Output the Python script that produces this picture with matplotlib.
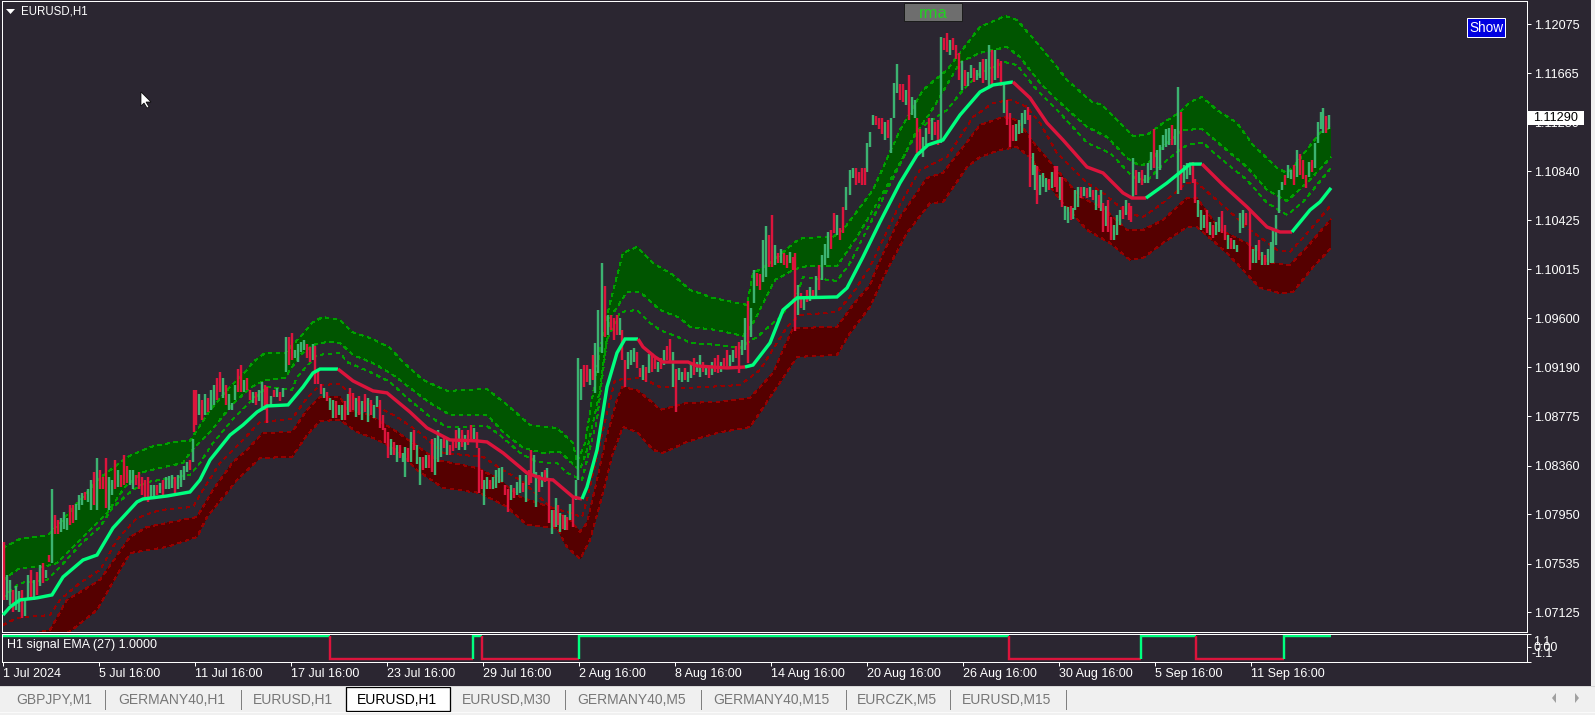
import numpy as np
import matplotlib
matplotlib.use("Agg")
import matplotlib.pyplot as plt
from matplotlib.patches import Rectangle, Polygon

plt.rcParams['font.family'] = ['Liberation Sans', 'DejaVu Sans']

# bands, as (hour bar, price) pairs
green_top = [(0,1.07667),(17,1.07742),(45,1.07776),(57,1.07877),(77,1.08071),(97,1.08256),(124,1.08432),(147,1.08517),
    (172,1.08559),(187,1.08568),(207,1.08828),(227,1.09022),(244,1.09165),(250,1.09232),(262,1.09309),(282,1.09309),
    (299,1.09460),(310,1.09569),(320,1.09611),(337,1.09586),(349,1.09485),(367,1.09435),(387,1.09351),(400,1.09232),
    (420,1.09081),(444,1.08989),(484,1.09005),(504,1.08871),(527,1.08702),(554,1.08677),(570,1.08551),(574,1.08390),
    (582,1.08551),(589,1.08913),(597,1.09334),(607,1.09730),(620,1.10151),(634,1.10201),(650,1.10066),(670,1.09965),
    (687,1.09839),(710,1.09772),(744,1.09713),(750,1.09982),(760,1.10024),(777,1.10134),(792,1.10243),(800,1.10277),
    (830,1.10285),(840,1.10344),(870,1.10681),(897,1.11186),(920,1.11523),(944,1.11691),(957,1.11835),(977,1.12053),
    (1002,1.12146),(1014,1.12112),(1034,1.11919),(1054,1.11716),(1064,1.11607),(1089,1.11422),(1099,1.11397),
    (1117,1.11245),(1130,1.11135),(1144,1.11144),(1160,1.11245),(1177,1.11337),(1187,1.11422),(1199,1.11464),
    (1214,1.11354),(1234,1.11245),(1250,1.11060),(1274,1.10866),(1284,1.10824),(1292,1.10891),(1317,1.11161),(1328,1.11211)]
green_bottom = [(0,1.07397),(17,1.07498),(40,1.07506),(54,1.07540),(69,1.07667),(87,1.07818),(104,1.07961),(122,1.08180),
    (140,1.08306),(157,1.08340),(180,1.08382),(189,1.08492),(207,1.08643),(229,1.08871),(247,1.09014),(262,1.09081),
    (282,1.09098),(297,1.09291),(310,1.09376),(324,1.09401),(337,1.09393),(350,1.09291),(370,1.09224),(390,1.09123),
    (407,1.09014),(427,1.08888),(447,1.08786),(484,1.08786),(500,1.08643),(520,1.08509),(540,1.08467),(557,1.08475),
    (574,1.08340),(577,1.08323),(584,1.08492),(595,1.08913),(607,1.09603),(624,1.09822),(637,1.09822),(657,1.09670),
    (677,1.09603),(687,1.09527),(714,1.09502),(740,1.09451),(750,1.09561),(772,1.09923),(792,1.10015),(804,1.10040),
    (834,1.10040),(854,1.10285),(870,1.10512),(897,1.10908),(914,1.11169),(927,1.11329),(937,1.11464),(957,1.11758),
    (977,1.11835),(1004,1.11885),(1017,1.11800),(1037,1.11582),(1054,1.11439),(1084,1.11211),(1104,1.11127),
    (1124,1.10950),(1137,1.10883),(1145,1.10908),(1164,1.11077),(1180,1.11186),(1199,1.11194),(1220,1.11043),
    (1244,1.10874),(1264,1.10681),(1284,1.10588),(1304,1.10740),(1328,1.10958)]
green_inner = [(0,1.07246),(17,1.07372),(44,1.07397),(57,1.07506),(79,1.07709),(97,1.07843),(110,1.08012),(130,1.08155),
    (144,1.08222),(170,1.08256),(187,1.08281),(197,1.08382),(210,1.08551),(229,1.08744),(247,1.08896),(264,1.09022),
    (289,1.08997),(294,1.09106),(314,1.09291),(337,1.09309),(344,1.09232),(367,1.09148),(387,1.09064),(404,1.08930),
    (427,1.08770),(444,1.08685),(484,1.08693),(497,1.08617),(517,1.08467),(534,1.08390),(554,1.08382),(564,1.08298),
    (579,1.08239),(584,1.08407),(594,1.08744),(604,1.09418),(617,1.09653),(634,1.09670),(647,1.09561),(657,1.09502),
    (677,1.09435),(687,1.09393),(714,1.09376),(737,1.09351),(754,1.09443),(777,1.09611),(794,1.09797),(800,1.09949),
    (834,1.09915),(847,1.10066),(869,1.10428),(894,1.10849),(914,1.11186),(944,1.11354),(960,1.11523),(977,1.11666),
    (1002,1.11758),(1014,1.11733),(1034,1.11523),(1057,1.11329),(1084,1.11077),(1107,1.10993),(1130,1.10790),
    (1144,1.10757),(1164,1.10933),(1184,1.11060),(1200,1.11077),(1217,1.10950),(1244,1.10765),(1264,1.10572),
    (1284,1.10471),(1300,1.10580),(1328,1.10866)]
center_line = [(0,1.07102),(7,1.07169),(17,1.07229),(34,1.07246),(49,1.07271),(60,1.07422),(80,1.07565),(94,1.07607),
    (110,1.07835),(134,1.08054),(140,1.08079),(164,1.08104),(187,1.08138),(197,1.08239),(207,1.08407),(227,1.08617),
    (240,1.08702),(254,1.08811),(264,1.08862),(285,1.08871),(300,1.09022),(310,1.09140),(317,1.09173),(335,1.09173),
    (350,1.09073),(370,1.08989),(384,1.08972),(407,1.08811),(424,1.08677),(447,1.08576),(474,1.08568),(484,1.08559),
    (500,1.08467),(524,1.08298),(540,1.08247),(550,1.08239),(570,1.08096),(579,1.08079),(584,1.08180),(594,1.08492),
    (604,1.09022),(614,1.09309),(622,1.09426),(635,1.09426),(640,1.09359),(652,1.09275),(660,1.09232),(685,1.09232),
    (694,1.09199),(724,1.09182),(742,1.09190),(750,1.09207),(767,1.09393),(780,1.09670),(794,1.09772),(834,1.09780),
    (844,1.09856),(860,1.10117),(877,1.10411),(897,1.10740),(914,1.10975),(925,1.11060),(940,1.11102),(957,1.11312),
    (977,1.11506),(990,1.11565),(1010,1.11590),(1027,1.11456),(1044,1.11245),(1060,1.11102),(1084,1.10874),(1100,1.10824),
    (1120,1.10656),(1129,1.10613),(1143,1.10613),(1164,1.10740),(1180,1.10849),(1187,1.10899),(1199,1.10899),(1220,1.10723),
    (1244,1.10538),(1264,1.10369),(1277,1.10327),(1289,1.10327),(1307,1.10512),(1317,1.10580),(1328,1.10698)]
red_inner = [(0,1.07018),(14,1.07077),(47,1.07102),(57,1.07229),(77,1.07372),(97,1.07481),(114,1.07734),(134,1.07919),
    (157,1.07986),(190,1.08012),(200,1.08155),(217,1.08382),(237,1.08551),(257,1.08727),(289,1.08753),(304,1.08930),
    (317,1.09039),(337,1.09047),(354,1.08913),(374,1.08854),(394,1.08770),(417,1.08635),(440,1.08467),(480,1.08433),
    (500,1.08323),(520,1.08222),(547,1.08012),(564,1.07969),(579,1.07927),(584,1.08071),(597,1.08551),(612,1.09081),
    (637,1.09098),(647,1.09064),(657,1.09022),(684,1.09014),(704,1.09022),(737,1.09039),(757,1.09165),(784,1.09527),
    (797,1.09628),(834,1.09653),(850,1.09813),(867,1.10032),(894,1.10512),(917,1.10849),(944,1.10958),(970,1.11295),
    (990,1.11413),(1007,1.11439),(1024,1.11380),(1037,1.11245),(1054,1.10992),(1084,1.10740),(1100,1.10656),(1124,1.10487),
    (1140,1.10453),(1160,1.10572),(1184,1.10740),(1194,1.10740),(1217,1.10572),(1247,1.10344),(1274,1.10176),(1287,1.10159),
    (1307,1.10344),(1328,1.10554)]
red_top = [(0,1.06892),(17,1.06926),(47,1.06976),(64,1.07229),(97,1.07397),(127,1.07759),(144,1.07843),(194,1.07927),
    (210,1.08155),(230,1.08390),(244,1.08492),(260,1.08635),(289,1.08643),(304,1.08828),(317,1.08938),(337,1.08938),
    (344,1.08828),(367,1.08786),(394,1.08643),(434,1.08407),(474,1.08340),(494,1.08256),(517,1.08096),(547,1.08012),
    (567,1.07902),(577,1.07801),(584,1.07877),(594,1.08239),(602,1.08551),(614,1.08913),(619,1.09022),(634,1.08997),
    (650,1.08888),(657,1.08828),(684,1.08888),(717,1.08896),(747,1.08930),(770,1.09140),(790,1.09519),(834,1.09527),
    (850,1.09713),(867,1.09881),(874,1.10032),(897,1.10453),(924,1.10782),(940,1.10824),(977,1.11228),(1000,1.11295),
    (1014,1.11270),(1034,1.11043),(1060,1.10790),(1077,1.10622),(1100,1.10529),(1124,1.10344),(1140,1.10344),(1160,1.10428),
    (1184,1.10613),(1194,1.10613),(1217,1.10344),(1244,1.10234),(1267,1.10066),(1287,1.10049),(1304,1.10201),(1328,1.10436)]
red_bottom = [(0,1.06681),(27,1.06808),(47,1.06876),(69,1.06976),(94,1.07144),(107,1.07338),(127,1.07624),(164,1.07675),
    (194,1.07759),(204,1.07927),(234,1.08239),(257,1.08424),(289,1.08433),(304,1.08617),(317,1.08736),(337,1.08744),
    (354,1.08643),(370,1.08593),(394,1.08492),(414,1.08323),(440,1.08172),(477,1.08129),(504,1.08012),(524,1.07860),
    (554,1.07835),(564,1.07675),(577,1.07574),(587,1.07734),(600,1.08129),(610,1.08467),(620,1.08685),(634,1.08643),
    (650,1.08492),(660,1.08467),(684,1.08559),(714,1.08635),(747,1.08685),(770,1.08972),(794,1.09275),(834,1.09292),
    (847,1.09477),(867,1.09696),(884,1.10007),(904,1.10319),(927,1.10570),(940,1.10579),(964,1.10874),(977,1.10958),
    (997,1.11018),(1014,1.11043),(1027,1.10958),(1057,1.10597),(1084,1.10344),(1107,1.10234),(1127,1.10091),(1140,1.10108),
    (1160,1.10234),(1184,1.10369),(1194,1.10369),(1224,1.10150),(1257,1.09856),(1277,1.09813),(1290,1.09822),(1310,1.10032),
    (1328,1.10192)]

# bars where the middle line changes colour, it starts green
center_flips = [335, 579, 635, 742, 1010, 1143, 1199, 1289]

# candles: (bar, high, low, g/r)
candles_jul_a = [(1,1.0772,1.0723,'r'),(4,1.0744,1.0723,'g'),(7,1.0740,1.0719,'g'),(10,1.0731,1.0713,'r'),(13,1.0735,1.0714,'g'),
    (16,1.0730,1.0713,'g'),(19,1.0731,1.0708,'r'),(22,1.0724,1.0709,'g'),(25,1.0744,1.0723,'g'),(28,1.0748,1.0723,'r'),
    (31,1.0740,1.0723,'g'),(34,1.0746,1.0727,'r'),(37,1.0752,1.0735,'g'),(40,1.0754,1.0737,'r'),(43,1.0748,1.0741,'g'),
    (46,1.0761,1.0755,'r'),(49,1.0816,1.0754,'g'),(52,1.0794,1.0778,'r'),(55,1.0790,1.0778,'r'),(58,1.0792,1.0780,'g'),
    (61,1.0797,1.0783,'g'),(64,1.0792,1.0782,'g'),(67,1.0803,1.0786,'r'),(70,1.0803,1.0788,'r'),(73,1.0804,1.0790,'g'),
    (76,1.0811,1.0799,'g'),(79,1.0813,1.0803,'g'),(82,1.0814,1.0807,'r'),(85,1.0816,1.0805,'g'),(88,1.0824,1.0799,'g'),
    (91,1.0831,1.0803,'r'),(94,1.0842,1.0799,'g'),(97,1.0832,1.0816,'r'),(100,1.0826,1.0816,'r'),(103,1.0842,1.0800,'r'),
    (106,1.0826,1.0799,'g'),(109,1.0824,1.0811,'g'),(112,1.0841,1.0816,'r'),(115,1.0832,1.0818,'g'),(118,1.0828,1.0818,'r'),
    (121,1.0845,1.0820,'r'),(124,1.0836,1.0821,'r'),(127,1.0832,1.0820,'g'),(130,1.0832,1.0816,'g'),(133,1.0828,1.0820,'r'),
    (136,1.0831,1.0816,'r'),(139,1.0826,1.0811,'r'),(142,1.0824,1.0809,'r'),(145,1.0826,1.0805,'r'),(148,1.0820,1.0809,'g'),
    (151,1.0820,1.0810,'g'),(154,1.0820,1.0811,'r'),(157,1.0821,1.0813,'g'),(160,1.0824,1.0811,'r'),(163,1.0826,1.0816,'g'),
    (166,1.0827,1.0816,'g'),(169,1.0828,1.0817,'g'),(172,1.0826,1.0813,'r'),(175,1.0828,1.0816,'g'),(178,1.0832,1.0818,'g'),
    (181,1.0836,1.0824,'g'),(184,1.0839,1.0831,'g'),(187,1.0841,1.0832,'r'),(190,1.0858,1.0839,'g'),(191,1.0900,1.0864,'r')]
candles_jul_b = [(193,1.0900,1.0870,'r'),(196,1.0896,1.0879,'g'),(199,1.0891,1.0874,'r'),(202,1.0896,1.0879,'g'),(205,1.0893,1.0881,'r'),
    (208,1.0900,1.0883,'g'),(211,1.0904,1.0887,'g'),(214,1.0910,1.0891,'r'),(217,1.0915,1.0898,'r'),(220,1.0910,1.0893,'g'),
    (223,1.0904,1.0887,'r'),(226,1.0896,1.0883,'g'),(229,1.0889,1.0883,'g'),(232,1.0904,1.0891,'g'),(235,1.0917,1.0898,'r'),
    (238,1.0921,1.0898,'r'),(241,1.0908,1.0898,'g'),(244,1.0910,1.0900,'r'),(247,1.0900,1.0891,'r'),(250,1.0898,1.0889,'g'),
    (253,1.0898,1.0887,'r'),(256,1.0900,1.0890,'g'),(259,1.0906,1.0883,'g'),(262,1.0904,1.0883,'r'),(264,1.0902,1.0872,'r'),
    (268,1.0895,1.0887,'g'),(271,1.0900,1.0894,'r'),(274,1.0901,1.0894,'g'),(277,1.0898,1.0890,'r'),(280,1.0901,1.0894,'g'),
    (283,1.0944,1.0915,'g'),(286,1.0944,1.0921,'r'),(289,1.0948,1.0925,'r'),(292,1.0933,1.0927,'g'),(295,1.0938,1.0923,'g'),
    (298,1.0940,1.0932,'g'),(301,1.0942,1.0933,'g'),(304,1.0938,1.0927,'r'),(307,1.0936,1.0923,'r'),(310,1.0938,1.0925,'g'),
    (312,1.0937,1.0905,'r'),(315,1.0917,1.0905,'r'),(318,1.0905,1.0896,'r'),(321,1.0901,1.0893,'g'),(324,1.0898,1.0890,'r'),
    (327,1.0893,1.0883,'g'),(330,1.0891,1.0876,'g'),(333,1.0890,1.0876,'r'),(336,1.0887,1.0879,'g'),(339,1.0887,1.0874,'g'),
    (342,1.0890,1.0874,'r'),(345,1.0896,1.0879,'g'),(347,1.0901,1.0881,'r'),(350,1.0897,1.0883,'r'),(353,1.0893,1.0877,'g'),
    (356,1.0895,1.0879,'r'),(359,1.0890,1.0874,'g'),(362,1.0896,1.0881,'r'),(365,1.0893,1.0873,'g'),(368,1.0891,1.0879,'r'),
    (371,1.0887,1.0876,'g'),(374,1.0895,1.0885,'g'),(377,1.0891,1.0868,'r'),(380,1.0879,1.0866,'r'),(382,1.0868,1.0855,'r'),
    (385,1.0864,1.0842,'r'),(388,1.0858,1.0845,'g'),(391,1.0856,1.0845,'r'),(394,1.0853,1.0839,'g'),(397,1.0853,1.0842,'r'),
    (400,1.0847,1.0839,'g'),(402,1.0852,1.0826,'g'),(405,1.0851,1.0839,'r'),(408,1.0864,1.0839,'g'),(411,1.0866,1.0849,'r'),
    (414,1.0853,1.0837,'g'),(417,1.0843,1.0820,'g'),(420,1.0843,1.0832,'r'),(423,1.0845,1.0834,'g'),(426,1.0845,1.0834,'r'),
    (429,1.0858,1.0831,'r'),(432,1.0859,1.0828,'g'),(435,1.0866,1.0839,'g'),(438,1.0858,1.0843,'g'),(441,1.0860,1.0851,'r')]
candles_jul_c = [(444,1.0859,1.0845,'g'),(447,1.0853,1.0845,'r'),(450,1.0858,1.0848,'r'),(453,1.0866,1.0851,'r'),(456,1.0868,1.0849,'g'),
    (459,1.0866,1.0852,'r'),(462,1.0862,1.0849,'g'),(465,1.0866,1.0853,'r'),(468,1.0870,1.0858,'r'),(471,1.0868,1.0858,'g'),
    (474,1.0864,1.0851,'r'),(476,1.0851,1.0813,'r'),(479,1.0832,1.0816,'r'),(481,1.0824,1.0803,'g'),(484,1.0826,1.0816,'g'),
    (487,1.0824,1.0816,'r'),(490,1.0826,1.0816,'g'),(493,1.0832,1.0817,'g'),(496,1.0834,1.0821,'g'),(499,1.0835,1.0822,'g'),
    (502,1.0820,1.0811,'r'),(505,1.0816,1.0797,'r'),(508,1.0820,1.0807,'g'),(511,1.0817,1.0809,'r'),(514,1.0822,1.0811,'g'),
    (517,1.0828,1.0813,'g'),(520,1.0821,1.0814,'r'),(523,1.0828,1.0805,'g'),(526,1.0832,1.0820,'r'),(528,1.0849,1.0821,'r'),
    (531,1.0845,1.0828,'g'),(533,1.0831,1.0801,'g'),(536,1.0828,1.0814,'r'),(539,1.0831,1.0818,'g'),(542,1.0832,1.0822,'r'),
    (544,1.0834,1.0824,'g'),(546,1.0824,1.0788,'r'),(549,1.0799,1.0778,'g'),(551,1.0799,1.0784,'r'),(553,1.0809,1.0784,'g'),
    (555,1.0803,1.0786,'r'),(557,1.0796,1.0780,'g'),(560,1.0794,1.0783,'r'),(562,1.0794,1.0782,'g'),(564,1.0793,1.0782,'r'),
    (567,1.0804,1.0790,'g'),(570,1.0809,1.0784,'r'),(573,1.0824,1.0807,'g')]
candles_aug_a = [(575,1.0927,1.0824,'g'),(578,1.0917,1.0891,'g'),(581,1.0921,1.0902,'r'),(584,1.0921,1.0906,'r'),(587,1.0917,1.0904,'g'),
    (590,1.0929,1.0908,'r'),(592,1.0939,1.0897,'g'),(595,1.0967,1.0914,'g'),(599,1.1007,1.0931,'g'),(602,1.0987,1.0944,'r'),
    (605,1.0963,1.0946,'g'),(608,1.0963,1.0950,'r'),(611,1.0960,1.0942,'r'),(614,1.0963,1.0946,'r'),(617,1.0960,1.0946,'g'),
    (619,1.0950,1.0925,'r'),(622,1.0925,1.0902,'r'),(625,1.0932,1.0917,'g'),(628,1.0933,1.0921,'g'),(631,1.0935,1.0923,'g'),
    (634,1.0932,1.0918,'r'),(637,1.0918,1.0911,'r'),(640,1.0921,1.0908,'g'),(643,1.0919,1.0906,'r'),(646,1.0930,1.0914,'g'),
    (649,1.0931,1.0915,'r'),(652,1.0928,1.0917,'r'),(655,1.0923,1.0915,'g'),(658,1.0927,1.0917,'r'),(661,1.0933,1.0921,'g'),
    (664,1.0937,1.0925,'r'),(667,1.0943,1.0923,'r'),(670,1.0932,1.0902,'g'),(673,1.0917,1.0881,'r'),(676,1.0918,1.0908,'g'),
    (679,1.0915,1.0906,'g'),(682,1.0918,1.0908,'r'),(685,1.0915,1.0906,'g'),(688,1.0923,1.0910,'g'),(691,1.0927,1.0912,'r'),
    (694,1.0923,1.0915,'g'),(697,1.0929,1.0911,'g'),(700,1.0923,1.0915,'r'),(703,1.0921,1.0912,'g'),(706,1.0918,1.0910,'r'),
    (709,1.0923,1.0912,'g'),(712,1.0927,1.0915,'r'),(715,1.0929,1.0914,'r'),(718,1.0923,1.0915,'g'),(721,1.0927,1.0917,'r'),
    (724,1.0933,1.0917,'r'),(727,1.0929,1.0918,'g'),(730,1.0933,1.0923,'g'),(733,1.0937,1.0927,'r'),(736,1.0940,1.0914,'r'),
    (739,1.0942,1.0929,'g'),(742,1.0960,1.0933,'g'),(745,1.0975,1.0922,'r'),(748,1.0969,1.0944,'g'),(751,1.1001,1.0973,'g'),
    (754,1.0998,1.0987,'r'),(757,1.0997,1.0984,'r'),(760,1.1026,1.0991,'g'),(763,1.1038,1.0995,'g'),(766,1.1030,1.1003,'r'),
    (769,1.1047,1.1003,'r'),(772,1.1022,1.1005,'g'),(775,1.1015,1.1007,'r'),(778,1.1018,1.1007,'g'),(781,1.1015,1.1005,'r'),
    (784,1.1013,1.1002,'r'),(787,1.1016,1.1007,'g'),(790,1.1012,1.1001,'r'),(792,1.1015,1.0949,'r'),(795,1.0988,1.0963,'g'),
    (798,1.0981,1.0969,'r'),(801,1.0979,1.0967,'g'),(804,1.0984,1.0974,'r'),(807,1.0986,1.0975,'g'),(810,1.0984,1.0977,'r'),
    (813,1.0996,1.0979,'g'),(816,1.1005,1.0984,'r'),(819,1.1013,1.0992,'g'),(822,1.1023,1.1005,'g'),(825,1.1033,1.1011,'g'),
    (828,1.1034,1.1018,'r')]
candles_aug_b = [(831,1.1049,1.1032,'r'),(834,1.1047,1.1030,'g'),(837,1.1036,1.1026,'r'),(840,1.1054,1.1032,'r'),(843,1.1071,1.1051,'g'),
    (847,1.1085,1.1064,'g'),(850,1.1087,1.1078,'g'),(853,1.1087,1.1072,'r'),(856,1.1083,1.1074,'r'),(859,1.1087,1.1072,'r'),
    (862,1.1087,1.1072,'r'),(864,1.1108,1.1083,'g'),(867,1.1117,1.1104,'g'),(870,1.1131,1.1123,'g'),(873,1.1130,1.1123,'r'),
    (876,1.1129,1.1119,'r'),(879,1.1129,1.1115,'r'),(882,1.1125,1.1110,'g'),(885,1.1127,1.1112,'r'),(888,1.1129,1.1099,'g'),
    (891,1.1158,1.1129,'g'),(894,1.1174,1.1150,'g'),(897,1.1157,1.1144,'r'),(900,1.1157,1.1142,'r'),(903,1.1152,1.1140,'g'),
    (906,1.1165,1.1127,'r'),(909,1.1146,1.1131,'g'),(912,1.1144,1.1129,'g'),(914,1.1129,1.1099,'r'),(917,1.1119,1.1102,'r'),
    (920,1.1113,1.1096,'g'),(923,1.1120,1.1106,'g'),(926,1.1129,1.1115,'r'),(929,1.1129,1.1110,'g'),(932,1.1125,1.1114,'r'),
    (935,1.1127,1.1106,'r'),(938,1.1197,1.1108,'g'),(941,1.1196,1.1186,'r'),(944,1.1200,1.1184,'r'),(947,1.1194,1.1182,'g'),
    (950,1.1196,1.1186,'r'),(953,1.1190,1.1178,'r'),(956,1.1183,1.1161,'r'),(959,1.1177,1.1152,'g'),(962,1.1169,1.1156,'r'),
    (965,1.1167,1.1156,'g'),(968,1.1173,1.1162,'g'),(971,1.1171,1.1159,'r'),(974,1.1169,1.1161,'g'),(977,1.1176,1.1162,'g'),
    (980,1.1178,1.1158,'r'),(983,1.1178,1.1161,'g'),(986,1.1190,1.1155,'g'),(989,1.1186,1.1157,'r'),(992,1.1186,1.1161,'g'),
    (995,1.1178,1.1162,'r'),(998,1.1177,1.1156,'r'),(1001,1.1158,1.1133,'g'),(1004,1.1144,1.1123,'r'),(1007,1.1133,1.1104,'r'),
    (1010,1.1123,1.1109,'r'),(1013,1.1124,1.1109,'g'),(1016,1.1127,1.1115,'g'),(1019,1.1133,1.1116,'g'),(1022,1.1135,1.1124,'g'),
    (1025,1.1138,1.1127,'r'),(1027,1.1131,1.1071,'r')]
candles_sep = [(1030,1.1099,1.1081,'g'),(1032,1.1089,1.1068,'g'),(1034,1.1088,1.1056,'r'),(1037,1.1081,1.1064,'g'),(1040,1.1082,1.1071,'g'),
    (1043,1.1078,1.1066,'g'),(1046,1.1077,1.1068,'r'),(1049,1.1083,1.1070,'g'),(1052,1.1088,1.1071,'r'),(1054,1.1088,1.1066,'r'),
    (1057,1.1079,1.1060,'g'),(1059,1.1079,1.1054,'r'),(1062,1.1055,1.1043,'g'),(1065,1.1054,1.1040,'g'),(1068,1.1055,1.1043,'r'),
    (1070,1.1053,1.1044,'g'),(1072,1.1068,1.1051,'g'),(1075,1.1071,1.1054,'g'),(1078,1.1071,1.1061,'r'),(1081,1.1071,1.1063,'g'),
    (1084,1.1070,1.1061,'r'),(1087,1.1071,1.1062,'g'),(1090,1.1068,1.1060,'r'),(1093,1.1068,1.1051,'g'),(1096,1.1064,1.1053,'r'),
    (1098,1.1068,1.1050,'g'),(1100,1.1057,1.1033,'r'),(1103,1.1055,1.1038,'g'),(1105,1.1060,1.1033,'r'),(1108,1.1045,1.1026,'r'),
    (1111,1.1039,1.1026,'g'),(1114,1.1047,1.1030,'g'),(1117,1.1051,1.1039,'g'),(1120,1.1055,1.1044,'r'),(1123,1.1060,1.1047,'g'),
    (1126,1.1057,1.1043,'r'),(1128,1.1055,1.1041,'r'),(1130,1.1095,1.1062,'g'),(1133,1.1085,1.1064,'r'),(1136,1.1083,1.1074,'g'),
    (1139,1.1085,1.1072,'r'),(1142,1.1081,1.1074,'g'),(1145,1.1091,1.1074,'g'),(1148,1.1100,1.1085,'g'),(1151,1.1119,1.1087,'r'),
    (1154,1.1102,1.1077,'g'),(1157,1.1106,1.1085,'g'),(1160,1.1114,1.1102,'g'),(1163,1.1119,1.1104,'g'),(1166,1.1120,1.1106,'g'),
    (1169,1.1123,1.1106,'r'),(1172,1.1119,1.1106,'g'),(1175,1.1155,1.1065,'g'),(1178,1.1134,1.1068,'r'),(1181,1.1089,1.1074,'g'),
    (1184,1.1091,1.1077,'g'),(1187,1.1091,1.1081,'g'),(1190,1.1092,1.1074,'r'),(1192,1.1077,1.1057,'r'),(1195,1.1060,1.1045,'g'),
    (1198,1.1051,1.1034,'g'),(1201,1.1047,1.1036,'g'),(1204,1.1051,1.1032,'r'),(1207,1.1041,1.1030,'g'),(1210,1.1039,1.1028,'r'),
    (1213,1.1041,1.1030,'g'),(1216,1.1045,1.1033,'g'),(1219,1.1050,1.1032,'r'),(1222,1.1039,1.1026,'r'),(1225,1.1030,1.1018,'g'),
    (1228,1.1028,1.1018,'r'),(1231,1.1026,1.1018,'g'),(1234,1.1022,1.1016,'g'),(1237,1.1049,1.1032,'g'),(1240,1.1051,1.1036,'g'),
    (1243,1.1049,1.1039,'r'),(1247,1.1051,1.1001,'r'),(1250,1.1018,1.1007,'g'),(1253,1.1022,1.1007,'g'),(1256,1.1026,1.1009,'r'),
    (1259,1.1016,1.1005,'g'),(1262,1.1013,1.1005,'r'),(1265,1.1018,1.1005,'g'),(1268,1.1024,1.1007,'g'),(1270,1.1034,1.1007,'g'),
    (1273,1.1047,1.1022,'g'),(1276,1.1068,1.1049,'g'),(1279,1.1075,1.1068,'g'),(1282,1.1081,1.1072,'r'),(1285,1.1089,1.1078,'g'),
    (1288,1.1085,1.1077,'g'),(1291,1.1089,1.1072,'r'),(1294,1.1102,1.1079,'g'),(1297,1.1098,1.1081,'r'),(1300,1.1093,1.1077,'r'),
    (1303,1.1081,1.1070,'r'),(1306,1.1092,1.1079,'g'),(1309,1.1093,1.1083,'r'),(1312,1.1108,1.1087,'g'),(1315,1.1125,1.1108,'g'),
    (1318,1.1134,1.1119,'g'),(1320,1.1137,1.1116,'g'),(1323,1.1130,1.1116,'r'),(1326,1.1131,1.1119,'g')]

# signal sub window
signal_bars = [0, 327, 470, 479, 576, 1006, 1138, 1193, 1281]
signal_vals = [1, -1, 1, -1, 1, -1, 1, -1, 1]
signal_end = 1328

price_ticks = [1.12075, 1.11665, 1.11250, 1.10840, 1.10425, 1.10015, 1.09600, 1.09190, 1.08775, 1.08360, 1.07950, 1.07535, 1.07125]
time_labels = ['1 Jul 2024', '5 Jul 16:00', '11 Jul 16:00', '17 Jul 16:00', '23 Jul 16:00', '29 Jul 16:00', '2 Aug 16:00',
               '8 Aug 16:00', '14 Aug 16:00', '20 Aug 16:00', '26 Aug 16:00', '30 Aug 16:00', '5 Sep 16:00', '11 Sep 16:00']
tab_names = ['GBPJPY,M1', 'GERMANY40,H1', 'EURUSD,H1', 'EURUSD,H1', 'EURUSD,M30', 'GERMANY40,M5', 'GERMANY40,M15', 'EURCZK,M5', 'EURUSD,M15']
last_price = 1.11290

BG = '#2b2631'
UP_COL = '#3cb371'
DOWN_COL = '#dc143c'
LINE_UP = '#00ff7f'
GREEN_BAND = '#005500'
RED_BAND = '#550000'
GREEN_DASH = '#009f00'
RED_DASH = '#950000'
W, H = 1595, 715
PX = 72 / 100  # one pixel in points


def xy(series):
    arr = np.array(series)
    return arr[:, 0], arr[:, 1]


def pixel_axes(left, top, right, bottom):
    return fig.add_axes([left / W, 1 - bottom / H, (right - left) / W, (bottom - top) / H])


fig = plt.figure(figsize=(W / 100, H / 100), dpi=100, facecolor=BG)

# main chart
ax = pixel_axes(2, 1, 1526.5, 631.5)
ax.set_facecolor(BG)
ax.set_xlim(-1, 1523.5)
ax.set_ylim(1.06963, 1.12272)

for top, bottom, col in [(green_top, green_bottom, GREEN_BAND), (red_top, red_bottom, RED_BAND)]:
    tx, ty = xy(top)
    bx, by = xy(bottom)
    ax.fill(np.r_[tx, bx[::-1]], np.r_[ty, by[::-1]], color=col, lw=0, antialiased=False, zorder=1)

for series, col in [(green_top, GREEN_DASH), (green_bottom, GREEN_DASH), (green_inner, GREEN_DASH),
                    (red_top, RED_DASH), (red_bottom, RED_DASH), (red_inner, RED_DASH)]:
    sx, sy = xy(series)
    ax.plot(sx, sy, color=col, lw=PX, ls=(0, (3, 5)), antialiased=False, zorder=2)

all_candles = candles_jul_a + candles_jul_b + candles_jul_c + candles_aug_a + candles_aug_b + candles_sep
for kind, col in [('g', UP_COL), ('r', DOWN_COL)]:
    picked = [c for c in all_candles if c[3] == kind]
    ax.vlines([c[0] for c in picked], [c[2] for c in picked], [c[1] for c in picked],
              color=col, lw=2.4 * PX, zorder=3)

# middle line, colour changes at the flips
cx, cy = xy(center_line)
edges = [0] + center_flips + [cx[-1]]
for i in range(len(edges) - 1):
    mask = (cx >= edges[i]) & (cx <= edges[i + 1])
    ax.plot(cx[mask], cy[mask], color=LINE_UP if i % 2 == 0 else DOWN_COL, lw=3.4 * PX, zorder=4,
            solid_capstyle='butt', solid_joinstyle='miter')

ax.set_xticks([])
ax.yaxis.tick_right()
ax.set_yticks(price_ticks)
ax.set_yticklabels([f'{p:.5f}' for p in price_ticks])
ax.tick_params(axis='y', colors='white', length=3.5 * PX, width=PX, pad=4 * PX, labelsize=9.1)
for s in ax.spines.values():
    s.set_color('white')
    s.set_linewidth(PX)

# signal window
sub = pixel_axes(2, 633.5, 1526.5, 661.5)
sub.set_facecolor(BG)
sub.set_xlim(-1, 1523.5)
sub.set_ylim(-1.2, 1.17)
for i, (b, v) in enumerate(zip(signal_bars, signal_vals)):
    end = signal_bars[i + 1] if i + 1 < len(signal_bars) else signal_end
    col = LINE_UP if v > 0 else DOWN_COL
    xs = [b, end] if i == 0 else [b, b, end]
    ys = [v, v] if i == 0 else [-v, v, v]
    sub.plot(xs, ys, color=col, lw=2.4 * PX, solid_joinstyle='miter', solid_capstyle='butt')
sub.yaxis.tick_right()
sub.set_yticks([1.17, 0, -1.2])
sub.set_yticklabels([])
sub.set_xticks(np.arange(len(time_labels)) * 96)
sub.set_xticklabels(time_labels, ha='left')
sub.tick_params(axis='both', colors='white', length=3.5 * PX, width=PX, labelsize=9)
sub.tick_params(axis='x', pad=3 * PX)
for s in sub.spines.values():
    s.set_color('white')
    s.set_linewidth(PX)

# terminal furniture, in pixel coordinates
ui = fig.add_axes([0, 0, 1, 1], zorder=10)
ui.set_xlim(0, W)
ui.set_ylim(H, 0)
ui.axis('off')
ui.patch.set_alpha(0)

ui.add_patch(Polygon([(6, 9), (15, 9), (10.5, 14)], color='white', lw=0))
ui.text(21, 11.5, 'EURUSD,H1', color='white', fontsize=8.3, va='center')
ui.text(7, 645, 'H1 signal EMA (27) 1.0000', color='white', fontsize=9, va='center')
ui.add_patch(Polygon([(141, 92), (141, 106), (144, 103), (147, 108), (149, 107), (146, 102), (151, 102)],
                     facecolor='white', edgecolor='black', lw=0.5))

ui.add_patch(Rectangle((903.5, 3), 58.5, 18, facecolor='#6e6e6e', edgecolor='#1c1c1c', lw=PX))
ui.text(933, 13, 'rma', color='#22d022', fontsize=12, ha='center', va='center')
ui.add_patch(Rectangle((1467, 17.5), 38, 19, facecolor='#0000e0', edgecolor='white', lw=PX))
ui.text(1486, 27.5, 'Show', color='white', fontsize=9.8, ha='center', va='center')

ui.add_patch(Rectangle((1528, 111), 56, 14, facecolor='white', edgecolor='none'))
ui.text(1533.5, 118, f'{last_price:.5f}', color='black', fontsize=9.1, va='center')

for txt, y in [('1.1', 642), ('0.00', 648), ('-1.1', 654)]:
    ui.text(1531 if txt == '-1.1' else 1533, y, txt, color='white', fontsize=9, va='center')

# tab strip
ui.add_patch(Rectangle((0, 686), W, 29, facecolor='#f0f0f0', edgecolor='none'))
ui.add_patch(Rectangle((1591, 0), 4, 686, facecolor='#f0f0f0', edgecolor='none'))
ui.plot([0, W], [685.5, 685.5], color='#d8d8d8', lw=PX)
ui.plot([0, W], [711.5, 711.5], color='#fafafa', lw=PX)
ui.add_patch(Rectangle((345.5, 686.5), 104, 24, facecolor='white', edgecolor='black', lw=1.3 * PX))
tab_centers = [54, 172, 293, 397, 507, 632, 771, 897, 1007]
for i, (name, tc) in enumerate(zip(tab_names, tab_centers)):
    ui.text(tc, 699.5, name, color='black' if i == 3 else '#777777', fontsize=10, ha='center', va='center')
for sx in [105, 241, 565, 701, 846, 950, 1066]:
    ui.plot([sx, sx], [690, 709], color='#808080', lw=PX)
ui.add_patch(Polygon([(1556, 693), (1556, 703), (1552, 698)], color='#a0a0a0', lw=0))
ui.add_patch(Polygon([(1575, 693), (1575, 703), (1579, 698)], color='#a0a0a0', lw=0))

fig.savefig('out.png', dpi=100, facecolor=BG)
